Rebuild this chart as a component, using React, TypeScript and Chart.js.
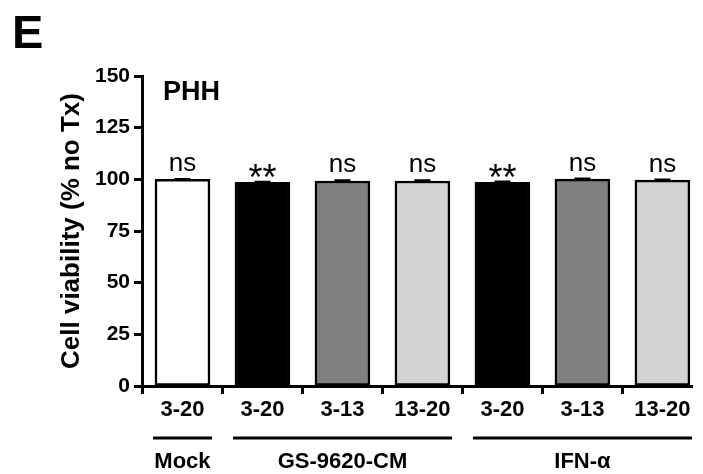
import React, { useEffect, useRef } from 'react';
import { Chart, registerables } from 'chart.js';

Chart.register(...registerables);

const categories = ['3-20', '3-20', '3-13', '13-20', '3-20', '3-13', '13-20'];
const viability = [100, 98.5, 99.2, 99.2, 98.6, 100.1, 99.6];
const sem = [0.2, 0.3, 0.3, 0.3, 0.3, 0.3, 0.3];
const significance = ['ns', '**', 'ns', 'ns', '**', 'ns', 'ns'];
const barColors = ['#ffffff', '#000000', '#808080', '#d3d3d3', '#000000', '#808080', '#d3d3d3'];
const groupLabels = ['Mock', 'GS-9620-CM', 'IFN-\u03b1'];
const groupFirst = [0, 1, 4];
const groupLast = [0, 3, 6];
const panelLetter = 'E';
const panelTitle = 'PHH';
const yTitle = 'Cell viability (% no Tx)';

const FONT = "'Liberation Sans', Arial, Helvetica, sans-serif";

const annotations = {
  id: 'annotations',
  afterDatasetsDraw(chart: any) {
    const { ctx, chartArea, scales } = chart;
    const x = scales.x;
    const y = scales.y;
    ctx.save();
    ctx.fillStyle = '#000';
    ctx.strokeStyle = '#000';

    // panel letter + title
    ctx.textAlign = 'left';
    ctx.textBaseline = 'alphabetic';
    ctx.font = `bold 47px ${FONT}`;
    ctx.fillText(panelLetter, 12, 48);
    ctx.font = `bold 27px ${FONT}`;
    ctx.fillText(panelTitle, 163, 100);

    // error bars
    ctx.lineWidth = 2;
    viability.forEach((v, i) => {
      const px = x.getPixelForValue(i);
      const top = y.getPixelForValue(v + sem[i]);
      const bot = y.getPixelForValue(v - sem[i]);
      ctx.beginPath();
      ctx.moveTo(px, bot);
      ctx.lineTo(px, top);
      ctx.moveTo(px - 8, top);
      ctx.lineTo(px + 8, top);
      ctx.stroke();
    });

    // significance marks
    ctx.textAlign = 'center';
    ctx.textBaseline = 'alphabetic';
    significance.forEach((s, i) => {
      const px = x.getPixelForValue(i);
      const top = y.getPixelForValue(viability[i] + sem[i]);
      if (s === 'ns') {
        ctx.font = `26px ${FONT}`;
        ctx.fillText(s, px, top - 8);
      } else {
        ctx.font = `36px ${FONT}`;
        ctx.fillText(s, px, top + 8);
      }
    });

    // group lines + labels
    const lineY = chartArea.bottom + 52;
    const labelY = chartArea.bottom + 76;
    ctx.lineWidth = 3;
    ctx.font = `bold 22px ${FONT}`;
    ctx.textBaseline = 'middle';
    groupLabels.forEach((g, k) => {
      const x1 = x.getPixelForValue(groupFirst[k]) - 29.5;
      const x2 = x.getPixelForValue(groupLast[k]) + 29.5;
      ctx.beginPath();
      ctx.moveTo(x1, lineY);
      ctx.lineTo(x2, lineY);
      ctx.stroke();
      ctx.fillText(g, (x1 + x2) / 2, labelY);
    });
    ctx.restore();
  },
};

export default function App() {
  const ref = useRef<HTMLCanvasElement | null>(null);

  useEffect(() => {
    document.body.style.margin = '0';
    const canvas = ref.current;
    if (!canvas) return;
    Chart.defaults.color = '#000';
    Chart.defaults.font.family = FONT;

    const chart = new Chart(canvas, {
      type: 'bar',
      data: {
        datasets: [
          {
            data: viability.map((v, i) => ({ x: i, y: v })),
            backgroundColor: barColors,
            borderColor: '#000',
            borderWidth: 2.5,
            borderSkipped: false,
            barThickness: 55,
          } as any,
        ],
      },
      options: {
        animation: false,
        responsive: false,
        maintainAspectRatio: false,
        layout: { padding: { top: 76, right: 11, bottom: 0, left: 0 } },
        plugins: {
          legend: { display: false },
          tooltip: { enabled: false },
        },
        scales: {
          x: {
            type: 'linear',
            min: -0.506,
            max: 6.37,
            offset: false,
            afterBuildTicks: (s: any) => {
              s.ticks = categories.map((_, i) => ({ value: i }));
            },
            afterFit: (s: any) => {
              s.height = 88;
            },
            ticks: {
              autoSkip: false,
              maxRotation: 0,
              padding: 3,
              color: '#000',
              font: { size: 22, weight: 'bold', family: FONT },
              callback: (_v: any, i: number) => categories[i],
            },
            grid: {
              drawOnChartArea: false,
              drawTicks: true,
              tickLength: 8,
              tickWidth: 3,
              tickColor: '#000',
            },
            border: { display: true, width: 3, color: '#000' },
          },
          y: {
            min: 0,
            max: 150,
            afterFit: (s: any) => {
              s.width = 142;
            },
            ticks: {
              stepSize: 25,
              padding: 4,
              color: '#000',
              font: { size: 21, weight: 'bold', family: FONT },
            },
            grid: {
              drawOnChartArea: false,
              drawTicks: true,
              tickLength: 8,
              tickWidth: 3,
              tickColor: '#000',
            },
            border: { display: true, width: 3, color: '#000' },
            title: {
              display: true,
              text: yTitle,
              color: '#000',
              font: { size: 26, weight: 'bold', family: FONT },
              padding: { top: 56, bottom: 0 },
            },
          },
        },
      } as any,
      plugins: [annotations],
    });
    return () => chart.destroy();
  }, []);

  return (
    <div style={{ position: 'absolute', left: 0, top: 0, width: 703, height: 474 }}>
      <canvas ref={ref} width={703} height={474} />
    </div>
  );
}
